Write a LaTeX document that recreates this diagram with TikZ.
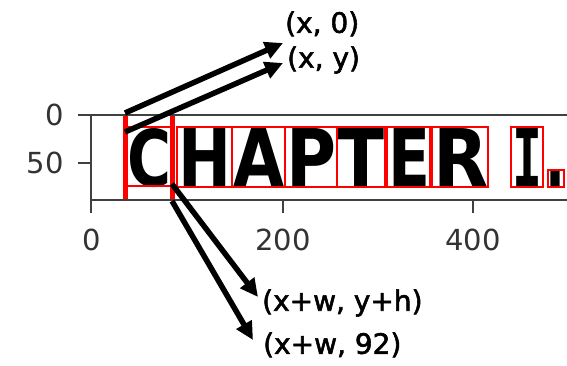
\documentclass[tikz,border=0pt]{standalone}
\usepackage{fontspec}
\setmainfont{DejaVu Sans}
\newfontfamily\annfont[FakeBold=2]{DejaVu Sans}
\newfontfamily\letsans{DejaVu Sans}
\newfontfamily\letmono{DejaVu Sans Mono}
\usetikzlibrary{arrows.meta}
\tikzset{
  glyph/.style={inner sep=0pt, anchor=north west},
  letbox/.style={draw=red, line width=1.8pt},
  bigbox/.style={draw=red, line width=4.5pt},
  spine/.style={draw=black!75, line width=2pt},
  tick/.style={draw=black!75, line width=1.8pt},
  ticklab/.style={inner sep=0pt, text=black!80, font=\fontsize{29}{29}\selectfont},
  ann/.style={inner sep=0pt, anchor=west, font=\annfont\fontsize{28}{28}\selectfont},
  pointer/.style={draw=black, line width=5.5pt, -{Triangle[length=18pt,width=17pt]}}
}
\begin{document}
\begin{tikzpicture}[x=1pt,y=-1pt]
\useasboundingbox (0,0) rectangle (567,366);
% letters
\node[glyph] (gC) at (127,128) {\resizebox{44pt}{58pt}{\letsans\bfseries C}};
\node[glyph] (gH) at (178,128) {\resizebox{53pt}{58pt}{\letsans\bfseries H}};
\node[glyph] (gA) at (233,128) {\resizebox{51pt}{58pt}{\letsans\bfseries A}};
\node[glyph] (gP) at (286,128) {\resizebox{50pt}{58pt}{\letsans\bfseries P}};
\node[glyph] (gT) at (337,128) {\resizebox{47pt}{58pt}{\letsans\bfseries T}};
\node[glyph] (gE) at (388,128) {\resizebox{42pt}{58pt}{\letsans\bfseries E}};
\node[glyph] (gR) at (433,128) {\resizebox{55pt}{58pt}{\letsans\bfseries R}};
\node[glyph] (gI) at (512,128) {\resizebox{30pt}{58pt}{\letmono\bfseries I}};
\node[glyph] (gD) at (545,171) {\resizebox{20pt}{15pt}{\letsans\bfseries .}};
% letter boxes
\draw[letbox] (125,127) rectangle (172,186);
\draw[letbox] (177,127) rectangle (232,187);
\draw[letbox] (232,127) rectangle (285,187);
\draw[letbox] (285,127) rectangle (337,187);
\draw[letbox] (337,127) rectangle (385,187);
\draw[letbox] (387,127) rectangle (430,187);
\draw[letbox] (432,127) rectangle (488,187);
\draw[letbox] (511,127) rectangle (543,187);
\draw[letbox] (548,170) rectangle (564,187);
% full-height box of C
\coordinate (bx0) at (125.5,114);
\coordinate (bx1) at (125.5,201);
\coordinate (bw0) at (172.5,114);
\coordinate (bw1) at (172.5,201);
\draw[bigbox] (bx0) -- (bx1);
\draw[bigbox] (bw0) -- (bw1);
% axes
\coordinate (o0) at (91,115);
\coordinate (o1) at (91,200);
\coordinate (r0) at (567,115);
\coordinate (r1) at (567,200);
\draw[spine] (r0) -- (o0) -- (o1) -- (r1);
% y ticks
\coordinate (yt0) at (91,115);
\coordinate (yt50) at (91,163);
\draw[tick] (yt0) -- ++(-13,0);
\draw[tick] (yt50) -- ++(-13,0);
\node[ticklab, anchor=east] (ly0) at (64,115) {0};
\node[ticklab, anchor=east] (ly50) at (64,163) {50};
% x ticks
\coordinate (xt0) at (91,200);
\coordinate (xt200) at (283,200);
\coordinate (xt400) at (473,200);
\draw[tick] (xt0) -- ++(0,13);
\draw[tick] (xt200) -- ++(0,13);
\draw[tick] (xt400) -- ++(0,13);
\node[ticklab] (lx0) at (92,240) {0};
\node[ticklab] (lx200) at (283,240) {200};
\node[ticklab] (lx400) at (473,240) {400};
% annotations
\node[ann] (t1) at (285,24) {(x, 0)};
\node[ann] (t2) at (287,60) {(x, y)};
\node[ann] (t3) at (262,303) {(x+w, y+h)};
\node[ann] (t4) at (263,345) {(x+w, 92)};
\coordinate (s1) at (125,113);
\coordinate (s2) at (125,132);
\coordinate (s3) at (172,184);
\coordinate (s4) at (172,201);
\coordinate (e1) at (283,43);
\coordinate (e2) at (283,63);
\coordinate (e3) at (258,297);
\coordinate (e4) at (253,340);
\draw[pointer] (s1) -- (e1);
\draw[pointer] (s2) -- (e2);
\draw[pointer] (s3) -- (e3);
\draw[pointer] (s4) -- (e4);
\end{tikzpicture}
\end{document}
